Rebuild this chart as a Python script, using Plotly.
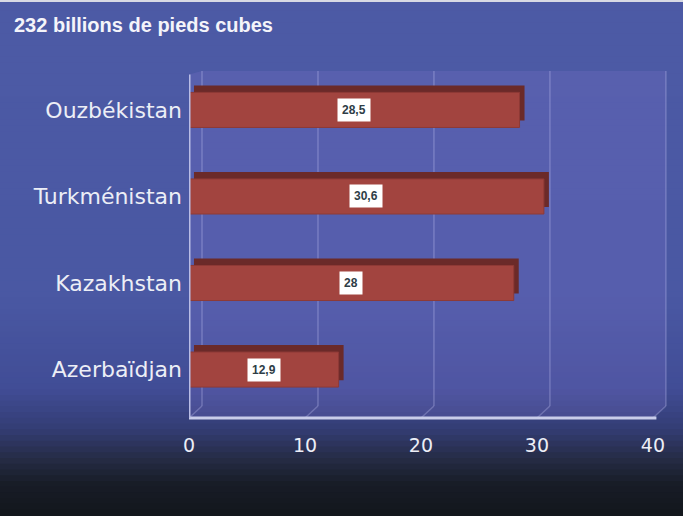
import numpy as np
import plotly.graph_objects as go

# data
countries = ["Azerbaïdjan", "Kazakhstan", "Turkménistan", "Ouzbékistan"]
values = [12.9, 28.0, 30.6, 28.5]
value_labels = ["12,9", "28", "30,6", "28,5"]
x_ticks = [0, 10, 20, 30, 40]
title_text = "232 billions de pieds cubes"

W, H = 683, 516
L, R, T, B = 189, 15, 71, 98
X_MAX = 41.3
PW, PH = W - L - R, H - T - B


def py2y(py):
    # figure pixel row -> paper y
    return (H - B - py) / PH


# ── background gradient (paper strips) ──────────────────────────────────
stops_px = [0, 300, 390, 430, 460, 485, 516]
stops_rgb = np.array([
    [77, 91, 166], [74, 88, 163], [65, 77, 150], [52, 61, 116],
    [38, 44, 69], [24, 29, 39], [19, 23, 28],
])
shapes = []
n = 90
edges = np.linspace(0, H, n + 1)
for i in range(n):
    mid = (edges[i] + edges[i + 1]) / 2
    rgb = [int(np.interp(mid, stops_px, stops_rgb[:, k])) for k in range(3)]
    shapes.append(dict(
        type="rect", xref="paper", yref="paper", layer="below",
        x0=-L / PW - 0.01, x1=1 + R / PW + 0.01,
        y0=py2y(edges[i + 1]) - 0.002, y1=py2y(edges[i]) + 0.002,
        fillcolor=f"rgb({rgb[0]},{rgb[1]},{rgb[2]})", line_width=0,
    ))

# ── 3D wall / floor ─────────────────────────────────────────────────────
DX, DY = 1.12, 12 / PH
shapes.append(dict(
    type="path", xref="x", yref="paper", layer="below",
    path=f"M 0 0 L 40 0 L {40 + DX} {DY} L {40 + DX} 1 L {DX} 1 L 0 0.99 Z",
    fillcolor="rgba(130,120,210,0.22)", line_width=0,
))
grid_col = "rgba(200,200,245,0.3)"
for k in x_ticks:
    shapes.append(dict(type="line", xref="x", yref="paper", layer="below",
                       x0=k + DX, x1=k + DX, y0=DY, y1=1,
                       line=dict(color=grid_col, width=1.5)))
    shapes.append(dict(type="line", xref="x", yref="paper", layer="below",
                       x0=k, x1=k + DX, y0=0, y1=DY,
                       line=dict(color=grid_col, width=1.5)))
# axis lines
shapes.append(dict(type="line", xref="x", yref="paper",
                   x0=0, x1=40.3, y0=0, y1=0,
                   line=dict(color="#c9cdea", width=3)))
shapes.append(dict(type="line", xref="x", yref="paper",
                   x0=0, x1=0, y0=0, y1=0.99,
                   line=dict(color="#b9bde6", width=3)))
# thin light rule at the very top
shapes.append(dict(type="line", xref="paper", yref="paper",
                   x0=-L / PW, x1=1 + R / PW, y0=py2y(1), y1=py2y(1),
                   line=dict(color="#d8dae4", width=2)))

fig = go.Figure()

# depth of the bars (top and side faces)
fig.add_trace(go.Bar(
    y=countries, x=values, base=0.43, orientation="h",
    width=0.405, offset=-0.2025 + 0.08,
    marker=dict(color="#6b2a29", line_width=0),
    hoverinfo="skip", showlegend=False,
))
# front face
fig.add_trace(go.Bar(
    y=countries, x=values, orientation="h",
    width=0.405, offset=-0.2025,
    marker=dict(color="#a2443f", line=dict(color="#8e3a36", width=1)),
    hovertemplate="%{y}: %{x}<extra></extra>", showlegend=False,
))

annotations = [
    dict(x=v / 2, y=c, xref="x", yref="y", text=f"<b>{t}</b>", showarrow=False,
         bgcolor="white", borderpad=4,
         font=dict(family="Liberation Sans", size=12, color="#2e3d46"))
    for c, v, t in zip(countries, values, value_labels)
]

fig.update_layout(
    width=W, height=H,
    margin=dict(l=L, r=R, t=T, b=B),
    paper_bgcolor="#4b59a4",
    plot_bgcolor="rgba(0,0,0,0)",
    barmode="overlay",
    shapes=shapes,
    annotations=annotations,
    title=dict(text=title_text, x=14 / W, xanchor="left", xref="container",
               y=1 - 25 / H, yanchor="middle", yref="container",
               font=dict(family="Liberation Sans", size=20, color="#f4f4fa", weight="bold")),
    xaxis=dict(range=[0, X_MAX], tickvals=x_ticks, showgrid=False, zeroline=False,
               showline=False, ticklabelstandoff=14,
               tickfont=dict(family="DejaVu Sans", size=19, color="#eceef6")),
    yaxis=dict(type="category", categoryorder="array", categoryarray=countries,
               range=[-0.56, 3.45], showgrid=False, zeroline=False, showline=False,
               ticklabelstandoff=6,
               tickfont=dict(family="DejaVu Sans", size=22, color="#eceef6")),
)

fig.write_html("out.html", config={"displayModeBar": False},
               post_script="document.body.style.margin='0';")
